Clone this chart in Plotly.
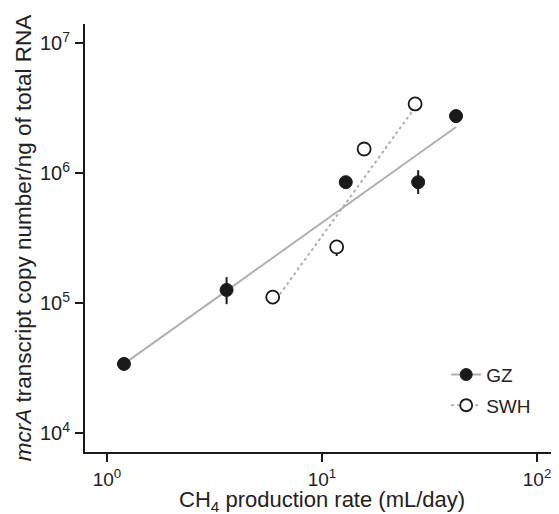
import plotly.graph_objects as go

# =============================================================================
# DATA
# =============================================================================

gz_rate = [1.2, 3.6, 12.9, 28.0, 42.0]
gz_mcra = [3.4e4, 1.26e5, 8.5e5, 8.5e5, 2.74e6]
gz_err_plus = [0, 3.2e4, 0, 2.0e5, 0]
gz_err_minus = [0, 2.8e4, 0, 1.6e5, 0]

swh_rate = [5.9, 11.7, 15.7, 27.1]
swh_mcra = [1.11e5, 2.7e5, 1.53e6, 3.4e6]
swh_err_plus = [0, 3e4, 0, 0]
swh_err_minus = [0, 4e4, 0, 0]

# fitted lines (end points)
gz_fit_rate = [1.2, 42.0]
gz_fit_mcra = [3.4e4, 2.26e6]
swh_fit_rate = [5.9, 27.1]
swh_fit_mcra = [9.8e4, 3.2e6]

x_tickvals = [1, 10, 100]
x_ticktext = ["10<sup>0</sup>", "10<sup>1</sup>", "10<sup>2</sup>"]
y_tickvals = [1e4, 1e5, 1e6, 1e7]
y_ticktext = ["10<sup>4</sup>", "10<sup>5</sup>", "10<sup>6</sup>", "10<sup>7</sup>"]

FONT = "Liberation Sans, Arial, sans-serif"
GREY = "#b0b0b0"
INK = "#1a1a1a"

# =============================================================================
# FIGURE
# =============================================================================

fig = go.Figure()

# fit lines
fig.add_trace(go.Scatter(
    x=gz_fit_rate, y=gz_fit_mcra, mode="lines",
    line=dict(color=GREY, width=2), showlegend=False, hoverinfo="skip",
))
fig.add_trace(go.Scatter(
    x=swh_fit_rate, y=swh_fit_mcra, mode="lines",
    line=dict(color=GREY, width=2, dash="dot"), showlegend=False, hoverinfo="skip",
))

# points
fig.add_trace(go.Scatter(
    x=gz_rate, y=gz_mcra, mode="markers", showlegend=False,
    marker=dict(size=13, color=INK, line=dict(width=1, color=INK)),
    error_y=dict(type="data", array=gz_err_plus, arrayminus=gz_err_minus,
                 color=INK, thickness=2, width=0),
))
fig.add_trace(go.Scatter(
    x=swh_rate, y=swh_mcra, mode="markers", showlegend=False,
    marker=dict(size=13, color="white", line=dict(width=1.8, color=INK)),
    error_y=dict(type="data", array=swh_err_plus, arrayminus=swh_err_minus,
                 color=INK, thickness=2, width=0),
))

# legend entries
fig.add_trace(go.Scatter(
    x=[None], y=[None], mode="lines+markers", name="GZ", legendgroup="gz",
    line=dict(color=GREY, width=2),
    marker=dict(size=12, color=INK, line=dict(width=1, color=INK)),
))
fig.add_trace(go.Scatter(
    x=[None], y=[None], mode="lines+markers", name="SWH", legendgroup="swh",
    line=dict(color=GREY, width=2, dash="dot"),
    marker=dict(size=12, color="white", line=dict(width=1.8, color=INK)),
))

# =============================================================================
# LAYOUT
# =============================================================================

fig.update_xaxes(
    type="log", range=[-0.102, 2.102],
    tickvals=x_tickvals, ticktext=x_ticktext,
    showline=True, linecolor=INK, linewidth=2,
    ticks="outside", ticklen=8, tickwidth=2, tickcolor=INK,
    ticklabelstandoff=1,
    showgrid=False, zeroline=False,
    tickfont=dict(size=19, color="#222"),
)
fig.update_yaxes(
    type="log", range=[3.854, 7.146],
    tickvals=y_tickvals, ticktext=y_ticktext,
    showline=True, linecolor=INK, linewidth=2,
    ticks="outside", ticklen=8, tickwidth=2, tickcolor=INK,
    ticklabelstandoff=1,
    showgrid=False, zeroline=False,
    tickfont=dict(size=20, color="#222"),
    title=dict(text="<i>mcrA</i> transcript copy number/ng of total RNA",
               font=dict(size=22.5, color="#222"), standoff=2),
)

# x title as annotation so it sits clear of the tick labels
fig.add_annotation(
    text="CH<sub>4</sub> production rate (mL/day)",
    x=0.5, y=0, xref="paper", yref="paper",
    xanchor="center", yanchor="top", yshift=-33,
    showarrow=False, font=dict(size=22, color="#222"),
)

# the page body adds an 8px offset, so the figure is 8px smaller
fig.update_layout(
    width=551, height=506,
    margin=dict(l=77, r=0, t=16, b=62),
    paper_bgcolor="white", plot_bgcolor="white",
    font=dict(family=FONT, color="#222"),
    legend=dict(
        x=0.762, y=0.225, xanchor="left", yanchor="top",
        font=dict(size=19), bgcolor="rgba(0,0,0,0)",
        tracegroupgap=3, itemwidth=30,
    ),
)

fig.write_html("out.html")
